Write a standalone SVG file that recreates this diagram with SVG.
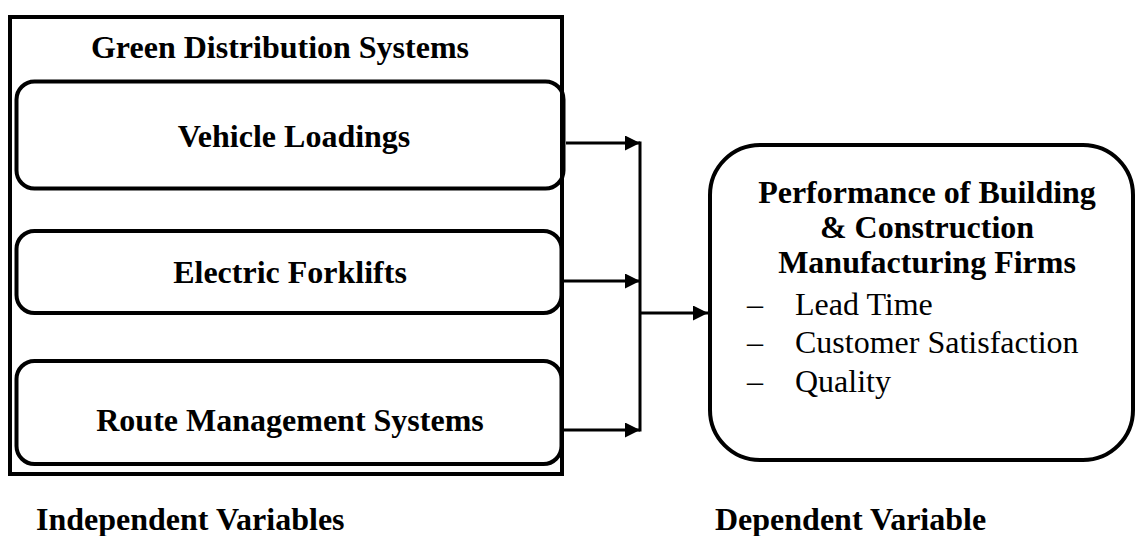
<svg xmlns="http://www.w3.org/2000/svg" width="1135" height="536" viewBox="0 0 1135 536">
<defs>
<style>
.t{font-family:"Liberation Serif","Times New Roman",serif;fill:#000;font-size:32px}
.b{font-weight:bold}
.box{fill:none;stroke:#000;stroke-width:4}
.ln{fill:none;stroke:#000;stroke-width:3}
</style>
<marker id="ah" viewBox="0 0 10 10" refX="10" refY="5" markerWidth="5" markerHeight="5" orient="auto" markerUnits="strokeWidth">
<path d="M0,0 L10,5 L0,10 Z" fill="#000"/>
</marker>
</defs>
<rect width="1135" height="536" fill="#fff"/>
<g id="outer">
<rect class="box" x="10" y="17" width="552" height="457"/>
<text class="t b" x="280" y="58" text-anchor="middle">Green Distribution Systems</text>
</g>
<g id="vehicle">
<rect class="box" x="16.5" y="81.5" width="547" height="107" rx="18"/>
<text class="t b" x="294" y="147" text-anchor="middle">Vehicle Loadings</text>
</g>
<g id="forklifts">
<rect class="box" x="16.5" y="231" width="545" height="82" rx="18"/>
<text class="t b" x="290" y="283" text-anchor="middle">Electric Forklifts</text>
</g>
<g id="route">
<rect class="box" x="16.5" y="361" width="545" height="103" rx="18"/>
<text class="t b" x="290" y="431" text-anchor="middle">Route Management Systems</text>
</g>
<g id="connectors">
<line class="ln" x1="566" y1="143" x2="640" y2="143" marker-end="url(#ah)"/>
<line class="ln" x1="564" y1="281" x2="640" y2="281" marker-end="url(#ah)"/>
<line class="ln" x1="564" y1="430" x2="640" y2="430" marker-end="url(#ah)"/>
<line class="ln" x1="640" y1="141.5" x2="640" y2="431.5"/>
<line class="ln" x1="640" y1="313" x2="708" y2="313" marker-end="url(#ah)"/>
</g>
<g id="performance">
<rect class="box" x="710" y="145" width="423" height="315" rx="50"/>
<text class="t b" x="927" y="203" text-anchor="middle">Performance of Building</text>
<text class="t b" x="927" y="238" text-anchor="middle">&amp; Construction</text>
<text class="t b" x="927" y="273" text-anchor="middle">Manufacturing Firms</text>
<text class="t" x="747" y="315">–</text>
<text class="t" x="795" y="315">Lead Time</text>
<text class="t" x="747" y="353">–</text>
<text class="t" x="795" y="353">Customer Satisfaction</text>
<text class="t" x="747" y="392">–</text>
<text class="t" x="795" y="392">Quality</text>
</g>
<g id="labels">
<text class="t b" x="36" y="530">Independent Variables</text>
<text class="t b" x="715" y="530">Dependent Variable</text>
</g>
</svg>
